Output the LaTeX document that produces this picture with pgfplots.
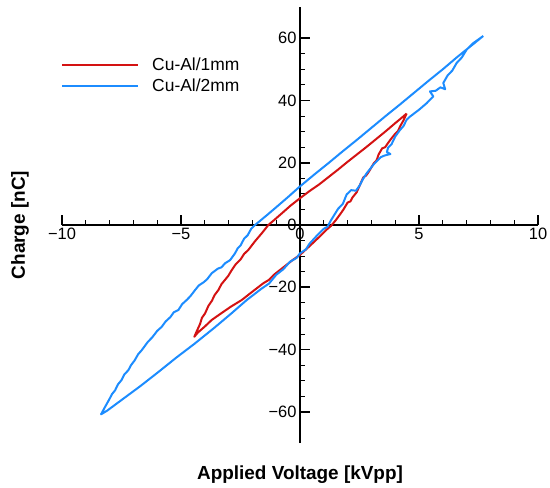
\documentclass[border=0pt]{standalone}
\usepackage{fontspec}
\setmainfont{Liberation Sans}
\usepackage{pgfplots}
\pgfplotsset{compat=1.18}
\definecolor{cred}{RGB}{212,18,18}
\definecolor{cblue}{RGB}{28,140,255}
\begin{document}
\begin{tikzpicture}
\useasboundingbox (-62bp,-45bp) rectangle (488bp,443bp);
\begin{axis}[
  scale only axis, width=476bp, height=436bp,
  xmin=-10, xmax=10, ymin=-70, ymax=70,
  axis lines=middle,
  axis line style={-, line width=1.8bp},
  every inner x axis line/.append style={-},
  every inner y axis line/.append style={-},
  hide obscured x ticks=false, hide obscured y ticks=false,
  xtick={-10,-5,0,5,10},
  xticklabels={−10,−5,0,5,10},
  ytick={-60,-40,-20,0,20,40,60},
  yticklabels={−60,−40,−20,0,20,40,60},
  minor x tick num=4, minor y tick num=3,
  tick align=inside,
  major tick length=10bp, minor tick length=5bp,
  major tick style={line width=1.6bp, black},
  minor tick style={line width=0.8bp, black},
  tick label style={font=\fontsize{16.5}{18}\selectfont},
  every axis x label/.style={at={([yshift=-36bp]rel axis cs:0.5,0)}, anchor=base},
  every axis y label/.style={at={([xshift=-37bp]rel axis cs:0,0.5)}, anchor=base, rotate=90},
  label style={font=\fontsize{19}{22}\selectfont\bfseries},
  xlabel={Applied Voltage [kVpp]},
  ylabel={Charge [nC]},
  legend style={draw=none, fill=none, at={(axis cs:-10.04,53.8)}, anchor=north west,
    inner sep=0pt, font=\fontsize{17.5}{20}\selectfont, nodes={inner sep=0pt},
    column sep=13bp, row sep=7bp},
  legend cell align=left,
  legend image code/.code={\draw[#1] (0bp,0bp) -- (76bp,0bp);},
]
\addplot[cred, line width=2bp, line join=round] coordinates {
(4.48,35.8) (4.30,34.6) (4.00,32.7) (3.60,30.1) (3.20,27.6) (2.80,25.1) (2.40,22.7) (2.00,20.3) (1.60,17.8) (1.20,15.4) (0.80,13.0) (0.40,10.9) (0.00,8.6) (-0.40,6.2) (-0.80,3.5) (-1.10,1.5) (-1.33,0.0) (-1.60,-2.6) (-1.90,-5.3) (-2.17,-8.0) (-2.35,-9.3) (-2.50,-11.1) (-2.70,-12.6) (-2.87,-14.5) (-3.02,-16.4) (-3.15,-17.6) (-3.30,-19.0) (-3.43,-20.9) (-3.58,-22.4) (-3.70,-24.3) (-3.85,-26.0) (-3.99,-28.4) (-4.12,-29.8) (-4.20,-31.8) (-4.35,-34.3) (-4.44,-35.9)
(-4.30,-34.6) (-4.00,-32.6) (-3.71,-30.5) (-3.30,-28.3) (-2.90,-26.2) (-2.45,-24.1) (-2.00,-21.4) (-1.54,-18.7) (-1.30,-17.6) (-1.10,-16.0) (-0.70,-13.6) (-0.30,-11.2) (0.00,-9.6) (0.40,-6.8) (0.80,-3.9) (1.10,-1.6) (1.30,-0.3) (1.50,1.5) (1.70,3.6) (1.82,4.9) (2.00,7.2) (2.12,7.6) (2.20,8.8) (2.38,10.5) (2.48,12.2) (2.55,13.4) (2.66,15.3) (2.78,15.9) (2.90,17.2) (3.10,19.8) (3.22,20.8) (3.30,22.6) (3.45,24.6) (3.58,25.0) (3.65,25.8) (3.80,27.4) (4.00,29.3) (4.12,30.2) (4.20,31.6) (4.35,33.6) (4.48,35.8)
};
\addlegendentry{Cu-Al/1mm}
\addplot[cblue, line width=2bp, line join=round] coordinates {
(7.70,60.7) (7.20,57.6) (6.60,53.9) (6.00,50.0) (5.40,46.3) (4.80,42.5) (4.20,38.7) (3.60,35.0) (3.00,31.2) (2.40,27.4) (1.80,23.7) (1.20,19.9) (0.60,16.2) (0.00,12.4) (-0.50,9.0) (-1.00,5.7) (-1.40,3.1) (-1.89,0.0) (-2.05,-1.2) (-2.20,-3.3) (-2.35,-4.4) (-2.50,-6.6) (-2.62,-7.5) (-2.73,-9.1) (-2.94,-11.3) (-3.15,-12.3) (-3.30,-13.6) (-3.45,-14.0) (-3.71,-15.5) (-3.90,-17.4) (-4.05,-18.4) (-4.25,-19.4) (-4.41,-20.9) (-4.60,-22.8) (-4.75,-24.0) (-4.95,-25.4) (-5.11,-27.3) (-5.30,-28.0) (-5.45,-29.6) (-5.65,-31.0) (-5.81,-32.7) (-6.00,-34.0) (-6.20,-36.0) (-6.40,-37.6) (-6.65,-40.2) (-6.80,-41.5) (-6.95,-43.5) (-7.10,-45.0) (-7.21,-46.6) (-7.38,-48.0) (-7.50,-49.8) (-7.65,-51.2) (-7.77,-53.1) (-7.90,-54.3) (-8.00,-55.8) (-8.19,-58.4) (-8.36,-60.8)
(-8.10,-59.6) (-7.50,-56.2) (-6.72,-51.8) (-6.00,-47.5) (-5.20,-42.6) (-4.41,-38.0) (-3.60,-33.0) (-2.90,-28.5) (-2.24,-24.1) (-1.61,-20.4) (-1.30,-18.8) (-1.00,-16.0) (-0.70,-14.2) (-0.42,-11.8) (-0.15,-10.6) (0.00,-9.1) (0.25,-7.8) (0.40,-6.0) (0.70,-3.5) (1.00,-1.2) (1.15,-0.6) (1.30,1.5) (1.60,5.2) (1.80,6.8) (1.96,9.8) (2.15,11.2) (2.35,11.0) (2.50,12.6) (2.65,14.8) (2.80,16.6) (3.10,19.5) (3.40,21.8) (3.55,22.3) (3.80,22.8) (3.65,23.4) (3.70,24.8) (3.85,26.0) (4.00,28.4) (4.20,30.5) (4.35,31.8) (4.48,33.8) (4.62,34.8) (5.00,37.0) (5.32,39.1) (5.60,41.3) (5.46,42.9) (5.70,43.1) (5.90,44.2) (6.10,43.6) (6.02,45.6) (6.20,48.0) (6.40,49.6) (6.58,52.0) (6.80,53.8) (7.00,56.3) (7.28,58.4) (7.50,59.6) (7.70,60.7)
};
\addlegendentry{Cu-Al/2mm}
\end{axis}
\end{tikzpicture}
\end{document}
